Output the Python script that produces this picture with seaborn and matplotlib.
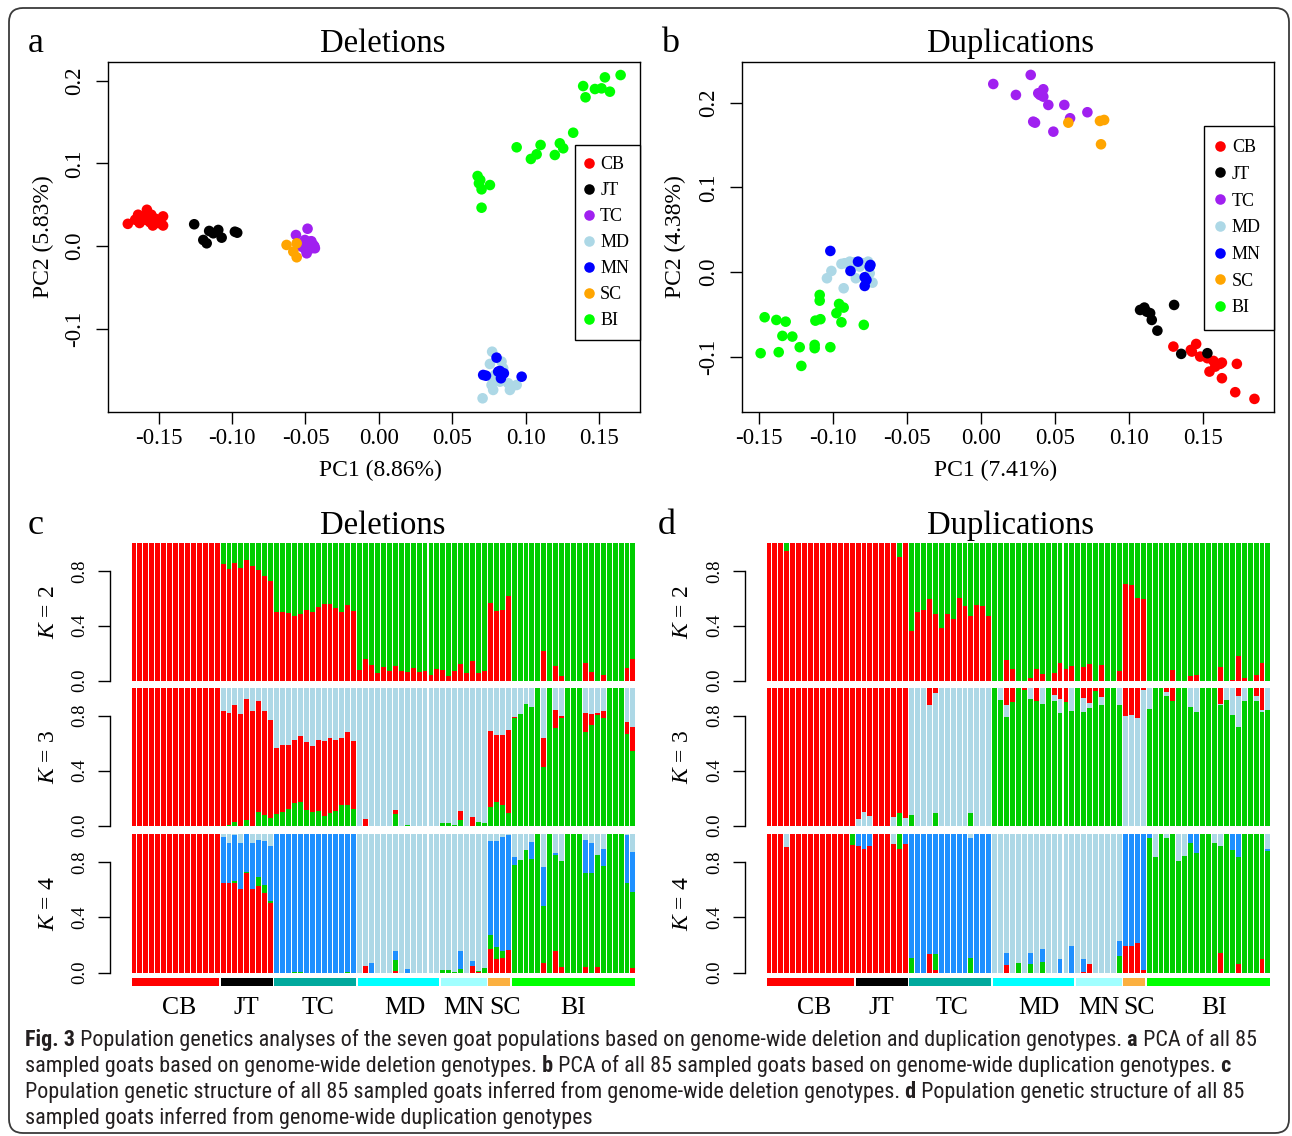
import numpy as np
import pandas as pd
import matplotlib
matplotlib.use("Agg")
import matplotlib.pyplot as plt
import seaborn as sns
from matplotlib.lines import Line2D
from matplotlib.patches import FancyBboxPatch
from matplotlib.ticker import FormatStrFormatter, FixedLocator, NullLocator
from matplotlib.transforms import blended_transform_factory
from matplotlib import font_manager

# ---------------- data ----------------
pops = ["CB", "JT", "TC", "MD", "MN", "SC", "BI"]
pop_sizes = [15, 9, 14, 14, 8, 4, 21]
pca_colors = ["#FF0000", "#000000", "#A020F0", "#ADD8E6", "#0000FF", "#FFA500", "#00FF00"]
group_colors = ["#FF0000", "#000000", "#00A99D", "#00FFFF", "#A0FFFF", "#FBB040", "#00FF00"]

# PCA of deletions (a)
del_pc1 = [-0.171, -0.164, -0.158, -0.155, -0.163, -0.159, -0.154, -0.147, -0.147, -0.161, -0.156, -0.150, -0.166, -0.152, -0.158,
           -0.1258, -0.1196, -0.1173, -0.1156, -0.1094, -0.1071, -0.0981, -0.0965, -0.1128,
           -0.0565, -0.0486, -0.0504, -0.0447, -0.0436, -0.0492, -0.0526, -0.0470, -0.0458, -0.0515, -0.048, -0.044, -0.050, -0.046,
           0.0771, 0.0756, 0.0835, 0.0778, 0.0880, 0.0938, 0.0892, 0.0778, 0.0706, 0.0790, 0.0846, 0.0904, 0.0767, 0.0824,
           0.0801, 0.0729, 0.0824, 0.0851, 0.0831, 0.0972, 0.0710, 0.0812,
           -0.0629, -0.0583, -0.056, -0.056,
           0.1646, 0.1539, 0.1516, 0.1573, 0.1471, 0.1391, 0.1407, 0.1323, 0.1232, 0.1255, 0.1198, 0.1101, 0.1074, 0.1035, 0.0938,
           0.0672, 0.0681, 0.0699, 0.0756, 0.0699, 0.0690]
del_pc2 = [0.027, 0.038, 0.044, 0.038, 0.028, 0.032, 0.025, 0.036, 0.025, 0.035, 0.029, 0.028, 0.032, 0.033, 0.038,
           0.0265, 0.0075, 0.0035, 0.0184, 0.0196, 0.0103, 0.0175, 0.0163, 0.0156,
           0.0135, 0.0211, 0.0075, 0.0015, -0.0025, -0.0086, -0.0006, 0.0054, -0.0025, 0.0035, 0.002, 0.000, -0.004, 0.006,
           -0.1275, -0.1423, -0.1395, -0.1617, -0.1656, -0.1677, -0.1737, -0.1737, -0.1838, -0.1556, -0.1475, -0.1697, -0.1677, -0.1637,
           -0.1347, -0.1565, -0.1508, -0.1536, -0.1596, -0.1577, -0.1556, -0.1516,
           0.0015, -0.0066, -0.0134, 0.0035,
           0.2068, 0.2040, 0.1907, 0.1867, 0.1899, 0.1935, 0.1799, 0.1371, 0.1243, 0.1183, 0.1102, 0.1223, 0.1110, 0.1054, 0.1195,
           0.0848, 0.0760, 0.0687, 0.0739, 0.0465, 0.0800]

# PCA of duplications (b)
dup_pc1 = [0.1300, 0.1418, 0.1454, 0.1425, 0.1481, 0.1530, 0.1571, 0.1616, 0.1628, 0.1729, 0.1544, 0.1628, 0.1718, 0.1848, 0.1583,
           0.1075, 0.1104, 0.1143, 0.1154, 0.1192, 0.1305, 0.1353, 0.1530, 0.1120,
           0.0083, 0.0336, 0.0236, 0.0421, 0.0399, 0.0421, 0.0455, 0.0563, 0.0602, 0.0719, 0.0353, 0.0365, 0.0489, 0.0387,
           -0.0921, -0.0887, -0.1011, -0.1041, -0.0928, -0.0846, -0.0733, -0.0853, -0.0797, -0.0763, -0.0752, -0.0876, -0.0819, -0.0943,
           -0.1018, -0.0831, -0.0747, -0.0882, -0.0786, -0.0786, -0.0752, -0.0774,
           0.0590, 0.0804, 0.0832, 0.0811,
           -0.1462, -0.1383, -0.1320, -0.1489, -0.1367, -0.1342, -0.1275, -0.1225, -0.1214, -0.1124, -0.1124, -0.1018, -0.1119, -0.1085,
           -0.1090, -0.1090, -0.0977, -0.0959, -0.0928, -0.0943, -0.0792]
dup_pc2 = [-0.0877, -0.0916, -0.0846, -0.0936, -0.0995, -0.1014, -0.1046, -0.1081, -0.1066, -0.1081, -0.1172, -0.1250, -0.1415, -0.1494, -0.1113,
           -0.0445, -0.0417, -0.0483, -0.0563, -0.0689, -0.0386, -0.0963, -0.0955, -0.0465,
           0.222, 0.2327, 0.2091, 0.2158, 0.2091, 0.2071, 0.1973, 0.1973, 0.1816, 0.1887, 0.1776, 0.1764, 0.1658, 0.2111,
           0.0106, 0.0125, 0.0015, -0.0071, -0.0189, -0.0071, -0.0123, 0.0118, 0.0106, 0.0125, -0.0012, 0.0086, 0.0066, 0.0098,
           0.0251, 0.0125, 0.0086, 0.0015, -0.0059, -0.0162, 0.0066, -0.0091,
           0.1764, 0.1784, 0.1796, 0.1509,
           -0.0531, -0.0563, -0.0583, -0.0955, -0.0943, -0.0751, -0.0759, -0.0884, -0.1105, -0.0857, -0.0896, -0.0884, -0.0571, -0.0554,
           -0.0268, -0.0335, -0.0483, -0.0374, -0.0417, -0.0590, -0.0621]

# Structure, deletions (c) -- ancestry fractions per sample
c_k2_red = [1, 1, 1, 1, 1, 1, 1, 1, 1, 1, 1, 1, 1, 1, 1,
            0.852, 0.813, 0.857, 0.823, 0.879, 0.837, 0.808, 0.765, 0.726,
            0.502, 0.502, 0.493, 0.473, 0.488, 0.515, 0.502, 0.536, 0.561, 0.561, 0.532, 0.502, 0.551, 0.507,
            0.080, 0.158, 0.114, 0.056, 0.100, 0.070, 0.107, 0.070, 0.063, 0.095, 0.063, 0.070, 0.041, 0.085,
            0.078, 0.034, 0.070, 0.121, 0.056, 0.143, 0.056, 0.070,
            0.566, 0.507, 0.515, 0.617,
            0, 0, 0, 0, 0, 0.216, 0, 0.107, 0.034, 0, 0, 0, 0.129, 0.063, 0, 0.041, 0, 0, 0, 0.095, 0.158]
c_k3_green = [0, 0, 0, 0, 0, 0, 0, 0, 0, 0, 0, 0, 0, 0, 0,
              0, 0.007, 0.027, 0, 0.044, 0, 0.099, 0.077, 0.058,
              0.085, 0.099, 0.121, 0.165, 0.172, 0.114, 0.099, 0.107, 0.070, 0.092, 0.107, 0.150, 0.150, 0.121,
              0, 0, 0, 0, 0, 0, 0.085, 0, 0.005, 0, 0, 0, 0, 0,
              0.020, 0.020, 0.005, 0.041, 0, 0, 0.027, 0.020,
              0.136, 0.172, 0.150, 0.092,
              0.782, 0.811, 0.884, 0.862, 1.0, 0.426, 1.0, 0.709, 0.782, 1.0, 1.0, 1.0, 0.680, 0.731, 0.804, 0.782, 1.0, 1.0, 1.0, 0.666, 0.542]
c_k3_red = [1, 1, 1, 1, 1, 1, 1, 1, 1, 1, 1, 1, 1, 1, 1,
            0.833, 0.811, 0.850, 0.811, 0.876, 0.833, 0.807, 0.756, 0.710,
            0.479, 0.487, 0.465, 0.457, 0.479, 0.494, 0.480, 0.515, 0.545, 0.545, 0.515, 0.487, 0.530, 0.494,
            0, 0.048, 0, 0, 0, 0, 0.030, 0, 0, 0, 0, 0, 0, 0,
            0, 0, 0, 0.066, 0, 0.063, 0, 0,
            0.552, 0.487, 0.509, 0.603,
            0.007, 0, 0, 0, 0, 0.211, 0, 0.131, 0.015, 0, 0, 0, 0.138, 0.080, 0.014, 0.051, 0, 0, 0, 0.087, 0.175]
c_k4_red = [1, 1, 1, 1, 1, 1, 1, 1, 1, 1, 1, 1, 1, 1, 1,
            0.646, 0.646, 0.646, 0.602, 0.718, 0.605, 0.629, 0.578, 0.506,
            0, 0, 0, 0, 0, 0, 0, 0, 0, 0, 0, 0, 0, 0,
            0, 0.050, 0, 0, 0, 0, 0.014, 0, 0, 0, 0, 0, 0, 0,
            0, 0, 0, 0, 0, 0.050, 0.007, 0,
            0.171, 0.099, 0.108, 0.164,
            0, 0, 0, 0, 0, 0.067, 0, 0.152, 0.043, 0, 0, 0, 0.043, 0, 0.043, 0, 0, 0, 0, 0, 0.036]
c_k4_green = [0, 0, 0, 0, 0, 0, 0, 0, 0, 0, 0, 0, 0, 0, 0,
              0, 0, 0.017, 0, 0.012, 0, 0.060, 0.056, 0.012,
              0, 0, 0, 0.006, 0.006, 0, 0, 0, 0, 0, 0, 0, 0.004, 0,
              0, 0, 0, 0, 0, 0, 0.078, 0, 0, 0, 0, 0, 0, 0,
              0.020, 0.020, 0.007, 0.027, 0, 0, 0.007, 0.036,
              0.101, 0.084, 0.044, 0,
              0.778, 0.814, 0.887, 0.819, 1.0, 0.415, 1.0, 0.699, 0.764, 1.0, 1.0, 1.0, 0.675, 0.718, 0.808, 0.771, 1.0, 1.0, 1.0, 0.646, 0.550]
c_k4_blue = [0, 0, 0, 0, 0, 0, 0, 0, 0, 0, 0, 0, 0, 0, 0,
             0.337, 0.294, 0.332, 0.333, 0.270, 0.335, 0.271, 0.321, 0.395,
             1.0, 1.0, 1.0, 0.994, 0.994, 1.0, 1.0, 1.0, 1.0, 1.0, 1.0, 1.0, 0.996, 1.0,
             0, 0, 0.072, 0, 0, 0, 0.060, 0, 0.027, 0, 0, 0, 0, 0,
             0, 0, 0, 0.130, 0, 0.034, 0, 0,
             0.680, 0.769, 0.831, 0.831,
             0.061, 0, 0, 0.123, 0, 0.284, 0, 0.016, 0, 0, 0, 0, 0.241, 0.222, 0, 0.121, 0, 0, 0, 0.349, 0.289]

# Structure, duplications (d)
d_k2_red = [1, 1, 1, 0.944, 1, 1, 1, 1, 1, 1, 1, 1, 1, 1, 1,
            1, 1, 1, 1, 1, 1, 1, 0.900, 1,
            0.362, 0.502, 0.515, 0.595, 0.488, 0.386, 0.488, 0.449, 0.602, 0.544, 0.473, 0.551, 0.544, 0.473,
            0, 0, 0.153, 0.085, 0, 0, 0.022, 0.085, 0.051, 0, 0.056, 0.129, 0.085, 0.107,
            0, 0.100, 0.121, 0, 0.114, 0, 0, 0.070,
            0.706, 0.697, 0.602, 0.595,
            0, 0, 0, 0, 0.078, 0, 0, 0.036, 0.041, 0, 0, 0, 0.100, 0, 0.007, 0.180, 0.022, 0, 0.041, 0.129, 0]
d_k3_green = [0, 0, 0, 0, 0, 0, 0, 0, 0, 0, 0, 0, 0, 0, 0,
              0, 0, 0, 0, 0, 0, 0, 0.092, 0,
              0.077, 0, 0, 0, 0.092, 0, 0, 0, 0, 0, 0.092, 0, 0, 0,
              1.0, 0.913, 0.789, 0.896, 1.0, 0.985, 0.920, 0.906, 0.884, 1.0, 0.906, 0.818, 0.898, 0.833,
              1.0, 0.826, 0.855, 0.978, 0.877, 1.0, 1.0, 0.877,
              0, 0, 0, 0,
              0.847, 1.0, 1.0, 0.942, 0.906, 1.0, 1.0, 0.862, 0.826, 1.0, 1.0, 1.0, 0.877, 0.913, 0.804, 0.717, 0.906, 1.0, 0.906, 0.826, 0.840]
d_k3_lightblue = [0, 0, 0, 0, 0, 0, 0, 0, 0, 0, 0, 0, 0, 0, 0,
                  0.048, 0.099, 0.070, 0, 0, 0, 0.063, 0, 0.056,
                  0.923, 1.0, 1.0, 0.877, 0.872, 1.0, 1.0, 1.0, 1.0, 1.0, 0.908, 1.0, 1.0, 1.0,
                  0, 0.087, 0.088, 0, 0, 0, 0.080, 0, 0.116, 0, 0.044, 0.102, 0, 0.167,
                  0, 0.102, 0.036, 0, 0.058, 0, 0, 0.123,
                  0.797, 0.804, 0.782, 0.985,
                  0.153, 0, 0, 0.029, 0, 0, 0, 0.138, 0.174, 0, 0, 0, 0.007, 0.087, 0.196, 0.225, 0.094, 0, 0.036, 0.015, 0.160]
d_k4_red = [1, 1, 1, 0.908, 1, 1, 1, 1, 1, 1, 1, 1, 1, 1, 0.920,
            0.916, 0.896, 0.916, 1, 1, 1, 0.933, 0.896, 0.933,
            0, 0, 0, 0.137, 0.019, 0, 0, 0, 0, 0, 0, 0, 0, 0,
            0, 0, 0.055, 0, 0, 0, 0, 0, 0, 0, 0, 0, 0, 0,
            0, 0.007, 0.063, 0, 0, 0, 0, 0,
            0.193, 0.193, 0.214, 0.019,
            0, 0, 0, 0, 0, 0, 0, 0, 0, 0, 0, 0, 0.142, 0, 0, 0.060, 0, 0, 0, 0.101, 0]
d_k4_green = [0, 0, 0, 0, 0, 0, 0, 0, 0, 0, 0, 0, 0, 0, 0.080,
              0, 0, 0, 0, 0, 0, 0, 0.104, 0,
              0.108, 0, 0, 0, 0.114, 0, 0, 0, 0, 0, 0.108, 0, 0, 0,
              0, 0, 0, 0, 0.070, 0, 0.060, 0, 0.075, 0, 0, 0, 0, 0,
              0, 0, 0, 0, 0, 0, 0, 0.120,
              0, 0, 0, 0,
              0.971, 0.836, 1.0, 0.976, 1.0, 0.807, 0.843, 0.940, 0.867, 1.0, 1.0, 0.937, 0.774, 1.0, 0.884, 0.776, 1.0, 1.0, 1.0, 0.899, 0.880]
d_k4_blue = [0, 0, 0, 0, 0, 0, 0, 0, 0, 0, 0, 0, 0, 0, 0,
             0.084, 0.104, 0.084, 0, 0, 0, 0, 0, 0.067,
             0.892, 1.0, 1.0, 0.863, 0.867, 1.0, 1.0, 1.0, 1.0, 1.0, 0.863, 1.0, 1.0, 1.0,
             0, 0, 0.087, 0, 0, 0, 0.082, 0, 0.096, 0, 0, 0.099, 0, 0.193,
             0, 0.092, 0, 0, 0, 0, 0, 0.109,
             0.807, 0.807, 0.786, 0.981,
             0.029, 0, 0, 0, 0, 0, 0, 0.060, 0.133, 0, 0, 0, 0, 0, 0.116, 0.164, 0, 0, 0, 0, 0.012]

caption_lines = [
    [("Fig. 3", True), (" Population genetics analyses of the seven goat populations based on genome-wide deletion and duplication genotypes.", False),
     (" a", True), (" PCA of all 85", False)],
    [("sampled goats based on genome-wide deletion genotypes.", False), (" b", True),
     (" PCA of all 85 sampled goats based on genome-wide duplication genotypes.", False), (" c", True)],
    [("Population genetic structure of all 85 sampled goats inferred from genome-wide deletion genotypes.", False), (" d", True),
     (" Population genetic structure of all 85", False)],
    [("sampled goats inferred from genome-wide duplication genotypes", False)],
]

N = sum(pop_sizes)
for arr in [del_pc1, del_pc2, dup_pc1, dup_pc2, c_k2_red, c_k3_green, c_k3_red, c_k4_red, c_k4_green, c_k4_blue,
            d_k2_red, d_k3_green, d_k3_lightblue, d_k4_red, d_k4_green, d_k4_blue]:
    assert len(arr) == N, len(arr)
sample_pop = [p for p, n in zip(pops, pop_sizes) for _ in range(n)]

RED, GREEN3, LBLUE, DBLUE = "#FF0000", "#00CD00", "#ADD8E6", "#1E90FF"
SERIF = "Liberation Serif"

# ---------------- style ----------------
sns.set_theme(style="ticks")
plt.rcParams.update({
    "font.family": [SERIF, "DejaVu Serif"],
    "axes.unicode_minus": False,
    "mathtext.fontset": "custom",
    "mathtext.it": "Liberation Serif:italic",
    "mathtext.rm": "Liberation Serif",
    "axes.edgecolor": "black",
    "axes.linewidth": 1.0,
    "xtick.color": "black", "ytick.color": "black",
    "text.color": "black", "axes.labelcolor": "black",
    "figure.facecolor": "white", "axes.facecolor": "white",
})

W, H = 1292, 1136
fig = plt.figure(figsize=(W / 100, H / 100), dpi=100)


def ax_px(l, t, r, b, **kw):
    return fig.add_axes([l / W, 1 - b / H, (r - l) / W, (b - t) / H], **kw)


bg = ax_px(0, 0, W, H, zorder=-5)
bg.set_xlim(0, W)
bg.set_ylim(H, 0)
bg.axis("off")
bg.add_patch(FancyBboxPatch((9, 8), 1280, 1125, boxstyle="round,pad=0,rounding_size=14",
                            fill=False, ec="#3a3a3a", lw=1.3))

# panel letters and titles
for x, y, s in [(36, 52, "a"), (670, 52, "b"), (36, 534, "c"), (667, 534, "d")]:
    bg.text(x, y, s, fontsize=26, ha="center", va="baseline", family=SERIF)
for x, y, s in [(383, 52, "Deletions"), (1011, 52, "Duplications"), (383, 534, "Deletions"), (1011, 534, "Duplications")]:
    bg.text(x, y, s, fontsize=23.5, ha="center", va="baseline", family=SERIF)


def pca_panel(l, t, r, b, pc1, pc2, xlim, ylim, xlab, ylab, xlab_x, ylab_x, leg_top, leg_pad, leg_htp, leg_ls):
    ax = ax_px(l, t, r, b)
    df = pd.DataFrame({"PC1": pc1, "PC2": pc2, "pop": sample_pop})
    sns.scatterplot(data=df, x="PC1", y="PC2", hue="pop", hue_order=pops, palette=pca_colors,
                    s=58, linewidth=0, legend=False, ax=ax, zorder=3)
    ax.set_xlim(*xlim)
    ax.set_ylim(*ylim)
    ax.xaxis.set_major_locator(FixedLocator([-0.15, -0.10, -0.05, 0.0, 0.05, 0.10, 0.15]))
    ax.yaxis.set_major_locator(FixedLocator([-0.1, 0.0, 0.1, 0.2]))
    ax.xaxis.set_major_formatter(FormatStrFormatter("%.2f"))
    ax.yaxis.set_major_formatter(FormatStrFormatter("%.1f"))
    ax.tick_params(length=8.5, width=1.0, labelsize=16.5, direction="out", labelfontfamily=SERIF)
    ax.tick_params(axis="x", pad=3.5)
    ax.tick_params(axis="y", pad=8, labelrotation=90)
    for lab in ax.get_yticklabels():
        lab.set_va("center")
    for s in ax.spines.values():
        s.set_visible(True)
        s.set_linewidth(1.0)
    ax.set_xlabel(xlab, fontsize=17, family=SERIF)
    ax.set_ylabel(ylab, fontsize=17, family=SERIF)
    ax.xaxis.label.set_va("center")
    ax.yaxis.label.set_va("center")
    ax.xaxis.set_label_coords((xlab_x - l) / (r - l), (b - 470) / (b - t))
    ax.yaxis.set_label_coords((ylab_x - l) / (r - l), 0.5)
    handles = [Line2D([], [], marker="o", ls="", color=c, markersize=7.6, markeredgewidth=0) for c in pca_colors]
    leg = ax.legend(handles, pops, loc="upper right", bbox_to_anchor=(1.0, (b - leg_top) / (b - t)),
                    borderaxespad=0, frameon=True, fancybox=False, edgecolor="black", framealpha=1,
                    prop={"family": SERIF, "size": 13}, handlelength=0.4, handletextpad=leg_htp,
                    borderpad=leg_pad, labelspacing=leg_ls)
    leg.get_frame().set_linewidth(1.0)
    return ax


pca_panel(108, 62.3, 640, 411.7, del_pc1, del_pc2, (-0.1845, 0.1778), (-0.2, 0.2222),
          "PC1 (8.86%)", "PC2 (5.83%)", 380, 43, 145, 0.6, 0.42, 0.5)
pca_panel(742, 62.3, 1274, 411.7, dup_pc1, dup_pc2, (-0.1615, 0.198), (-0.1645, 0.2476),
          "PC1 (7.41%)", "PC2 (4.38%)", 996, 675, 126, 0.72, 0.45, 0.54)


def structure_row(l, t, r, b, comps, colors, ylab, xlim):
    ax = ax_px(l, t, r, b)
    comps = [np.asarray(c, float) for c in comps]
    rest = np.clip(1 - np.sum(comps, axis=0), 0, None)
    comps = comps + [rest]
    cum = np.cumsum(np.array(comps), axis=0)
    idx = np.arange(N)
    for k in range(len(comps) - 1, -1, -1):
        sns.barplot(x=idx, y=cum[k], color=colors[k], saturation=1, width=0.83, native_scale=True,
                    errorbar=None, linewidth=0, edgecolor="none", ax=ax)
    ax.set_xlim(*xlim)
    ax.set_ylim(0, 1)
    for s in ["top", "right", "bottom"]:
        ax.spines[s].set_visible(False)
    ax.spines["left"].set_bounds(0, 0.8)
    ax.spines["left"].set_linewidth(1.0)
    ax.set_yticks([0, 0.4, 0.8])
    ax.set_yticklabels(["0.0", "0.4", "0.8"])
    ax.xaxis.set_major_locator(NullLocator())
    ax.set_xlabel("")
    ax.tick_params(axis="y", length=8.5, width=1.0, labelsize=13.5, pad=7, labelrotation=90,
                   labelfontfamily=SERIF)
    for lab in ax.get_yticklabels():
        lab.set_va("center")
    ax.set_ylabel(ylab, fontsize=17, family=SERIF)
    ax.yaxis.label.set_va("center")
    return ax


def group_bar(l, r, xlim, label_offsets_px):
    gax = ax_px(l, 977.5, r, 986)
    sizes = np.array(pop_sizes)
    starts = np.cumsum([0] + pop_sizes[:-1])
    gax.bar(starts - 0.5 + 0.15, np.ones(len(pops)), width=sizes - 0.3, align="edge",
            color=group_colors, linewidth=0)
    gax.set_xlim(*xlim)
    gax.set_ylim(0, 1)
    gax.axis("off")
    tr = blended_transform_factory(gax.transData, gax.transAxes)
    centers = starts + (sizes - 1) / 2
    for c, p, off in zip(centers, pops, label_offsets_px):
        gax.text(c + off / 5.94, (986 - 1007.5) / 8.5, p, transform=tr, ha="center", va="center",
                 fontsize=18.5, family=SERIF)


rows_y = [(543.3, 680.7), (688.0, 825.7), (834.3, 972.5)]
ylabels = ["$K$ = 2", "$K$ = 3", "$K$ = 4"]

# panel c
xl_c = ((110 - 133.97) / 5.94, (640 - 133.97) / 5.94)
c_rows = [([c_k2_red], [RED, GREEN3]),
          ([c_k3_green, c_k3_red], [GREEN3, RED, LBLUE]),
          ([c_k4_red, c_k4_green, c_k4_blue], [RED, GREEN3, DBLUE, LBLUE])]
for (t, b), (comps, cols), yl in zip(rows_y, c_rows, ylabels):
    ax = structure_row(110, t, 640, b, comps, cols, yl, xl_c)
    ax.yaxis.set_label_coords((48 - 110) / 530, 0.5)
group_bar(110, 640, xl_c, [4, 0, 3, 7, 0, 6, 0])

# panel d
xl_d = ((745 - 768.97) / 5.94, (1274 - 768.97) / 5.94)
d_rows = [([d_k2_red], [RED, GREEN3]),
          ([d_k3_green, d_k3_lightblue], [GREEN3, LBLUE, RED]),
          ([d_k4_red, d_k4_green, d_k4_blue], [RED, GREEN3, DBLUE, LBLUE])]
for (t, b), (comps, cols), yl in zip(rows_y, d_rows, ylabels):
    ax = structure_row(745, t, 1274, b, comps, cols, yl, xl_d)
    ax.yaxis.set_label_coords((683 - 745) / 529, 0.5)
group_bar(745, 1274, xl_d, [4, 0, 2, 6, 0, 5, 6])

# ---------------- caption ----------------
avail = {f.name for f in font_manager.fontManager.ttflist}
cap_family = next((f for f in ["Liberation Sans Narrow", "Roboto Condensed", "Open Sans Condensed", "Noto Sans"]
                   if f in avail), "DejaVu Sans")


def caption_line(segs, x0, y, size):
    arts, prev = [], None
    for s, bold in segs:
        kw = dict(fontsize=size, family=cap_family, fontweight="bold" if bold else "normal",
                  va="bottom", ha="left", color="#231F20")
        if prev is None:
            t = bg.text(x0, y, s, **kw)
        else:
            t = bg.annotate(s, xy=(1, 0), xycoords=prev, **kw)
        arts.append(t)
        prev = t
    return arts


test = caption_line(caption_lines[0], 25, 1050, 12)
fig.canvas.draw()
rend = fig.canvas.get_renderer()
w = test[-1].get_window_extent(rend).x1 - test[0].get_window_extent(rend).x0
cap_size = 12 * 1232 / w
for t in test:
    t.remove()
for segs, y in zip(caption_lines, [1051, 1077, 1103, 1129]):
    caption_line(segs, 25, y, cap_size)

fig.savefig("out.png", dpi=100, facecolor="white")
